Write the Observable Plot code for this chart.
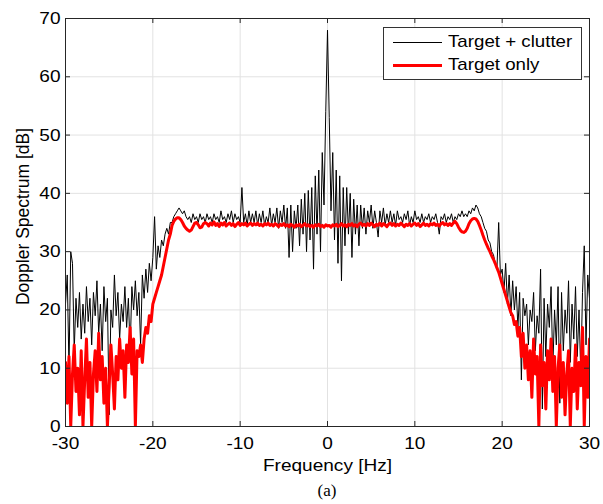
<!DOCTYPE html>
<html>
<head>
<meta charset="utf-8">
<script src="https://cdn.jsdelivr.net/npm/d3@7"></script>
<script src="https://cdn.jsdelivr.net/npm/@observablehq/plot@0.6"></script>
<style>
  body { margin: 0; background: #fff; }
  #wrap { position: relative; width: 603px; height: 504px; font-family: "Liberation Sans", Arial, sans-serif; color: #262626; }
  #legend { position: absolute; left: 383px; top: 27px; width: 197px; height: 51px; border: 1px solid #333; background: #fff; box-sizing: content-box; }
  .row { position: absolute; left: 0; height: 20px; width: 197px; }
  .sw { position: absolute; left: 9px; width: 49px; }
  .lt { position: absolute; left: 64px; top: 0; font-size: 17px; line-height: 20px; white-space: nowrap; transform: scaleX(1.1); transform-origin: left center; color: #000; }
  #caption { position: absolute; left: 0; top: 478px; width: 654px; text-align: center; font-family: "Liberation Serif", "Times New Roman", serif; font-size: 17px; line-height: 26px; color: #000; }
</style>
</head>
<body>
<div id="wrap">
  <div id="chart"></div>
  <div id="legend">
    <div class="row" style="top:4px"><span class="sw" style="top:10px;border-top:1px solid #000"></span><span class="lt">Target + clutter</span></div>
    <div class="row" style="top:27px"><span class="sw" style="top:9px;border-top:3px solid #ff0000"></span><span class="lt">Target only</span></div>
  </div>
  <div id="caption">(a)</div>
</div>
<script>
// Frequency grid: -30 Hz to 30 Hz in 0.2 Hz steps (301 samples)
const freqStart = -30;
const freqStep = 0.2;

// Target + clutter spectrum [dB], 10 samples (2 Hz) per row
const targetClutter = [
  21, 26, 10, 30, 28, 13, 22, 17, 23, 15,            // -30
  21, 16, 24, 18, 22, 14, 23, 19, 25, 16,            // -28
  21, 13, 24, 18, 22, 2, 20, 17, 26, 19,             // -26
  23, 15, 21, 18, 24, 17, 22, 13, 24, 20,            // -24
  25, 19, 23, 14, 26, 22, 27, 23, 28, 25,            // -22
  29, 36, 27, 31, 29, 32, 31, 33, 34, 33,            // -20
  35, 35, 36, 36.5, 37, 37.5, 37, 36.5, 37, 36,      // -18
  35.5, 36, 35, 36.5, 35.5, 36, 35, 36.5, 35.5, 36,  // -16
  35, 36.5, 35.5, 36, 35, 36.5, 35.5, 36, 35, 37,    // -14
  35.5, 36, 35, 36.5, 35.5, 37, 35, 36.5, 35.5, 36,  // -12
  35, 41, 35, 36.5, 34.5, 37, 35, 36.5, 35, 37,      // -10
  34.5, 36.5, 35, 37, 34.5, 36, 35, 37.5, 34.5, 36.5,// -8
  35, 37.5, 34, 37, 35, 38, 34, 37.5, 29, 38,        // -6
  30, 37, 34, 38, 31, 39, 33, 40, 30, 40.5,          // -4
  32, 41, 27, 43, 33, 44, 30, 47, 38, 54,            // -2
  68, 53, 37, 47, 32, 44, 28, 43, 25, 41,            // 0
  31, 41, 33, 40, 29, 39, 33, 38, 31, 38,            // 2
  34, 37.5, 33, 37, 35, 38, 34, 37, 35, 32.5,        // 4
  37, 35, 37.5, 34.5, 36.5, 35, 37, 35, 36.5, 34.5,  // 6
  37, 35.5, 36, 35, 36.5, 35.5, 37, 34.5, 36, 35,    // 8
  37, 35.5, 36, 35, 36.5, 35, 36, 35.5, 36.5, 35,    // 10
  36, 35.5, 36.5, 35, 33, 36, 35.5, 36.5, 35, 36,    // 12
  35.5, 36.5, 35, 36, 35.5, 36.5, 36, 37, 36, 36.5,  // 14
  36, 37, 36.5, 37.5, 37, 38, 37.5, 36.5, 36, 35,    // 16
  34, 33.5, 32, 31.5, 30, 29.5, 28, 27, 35, 26,      // 18
  27, 23, 28, 21, 26, 19, 25, 20, 24, 17,            // 20
  23, 8, 22, 19, 21, 14, 20, 18, 23, 13,             // 22
  19, 16, 27, 3, 22, 12, 21, 17, 24, 10,             // 24
  20, 14, 24, 4, 23, 13, 20, 16, 25, 11,             // 26
  21, 15, 24, 12, 20, 9, 23, 31, 14, 26,             // 28
  22                                                 // 30
];

// Target only spectrum [dB]
const targetOnly = [
  11, 4, 12, 0, 9, 14, 6, 10, 2, 13,                           // -30
  0, 8, 15, 5, 11, 0, 9, 13, 6, 16,                            // -28
  8, 12, 4, 10, 0, 7, 14, 9, 3, 12,                            // -26
  8, 15, 10, 13, 5, 14, 11, 17, 9, 15,                         // -24
  0, 13, 12, 14, 11, 15, 17, 16, 19, 18,                       // -22
  21, 22, 23, 24, 25, 26, 27.5, 29, 30.5, 32,                  // -20
  33, 34.5, 35.2, 35.6, 35.8, 35.8, 35.5, 35, 34.4, 34,        // -18
  33.7, 33.5, 33.7, 34.3, 34.9, 35, 34.6, 34.1, 34.2, 34.8,    // -16
  35, 34.8, 34.4, 34.9, 34.6, 35.1, 34.5, 34.8, 34.3, 34.9,    // -14
  34.6, 35, 34.4, 34.7, 34.9, 34.5, 34.8, 34.3, 34.7, 35,      // -12
  34.5, 34.8, 34.6, 34.9, 34.4, 34.7, 34.9, 34.5, 34.8, 34.6,  // -10
  34.9, 34.5, 34.7, 34.4, 34.8, 34.6, 34.9, 34.5, 34.7, 34.4,  // -8
  34.8, 34.6, 34.3, 34.7, 34.5, 34.8, 34.4, 34.6, 34.3, 34.7,  // -6
  34.5, 34.2, 34.6, 34.4, 34.7, 34.3, 34.5, 34.8, 34.4, 34.6,  // -4
  34.3, 34.5, 34.2, 34.6, 34.4, 34.7, 34.3, 34.5, 34.2, 34.6,  // -2
  34.4, 34.5, 34.2, 34.6, 34.4, 34.7, 34.3, 34.5, 34.8, 34.4,  // 0
  34.6, 34.3, 34.7, 34.5, 34.8, 34.4, 34.6, 34.3, 34.7, 34.9,  // 2
  34.5, 34.7, 34.4, 34.8, 34.5, 34.9, 34.6, 34.3, 34.7, 34.5,  // 4
  34.9, 34.4, 34.8, 34.6, 34.3, 34.7, 34.9, 34.5, 34.8, 34.4,  // 6
  34.7, 34.5, 34.9, 34.6, 34.3, 34.7, 34.5, 34.8, 34.4, 34.7,  // 8
  34.9, 34.5, 34.8, 34.3, 34.6, 34.9, 34.5, 34.7, 34.4, 34.8,  // 10
  34.6, 34.9, 34.5, 34.7, 34.4, 34.8, 35, 34.6, 34.8, 34.5,    // 12
  34.8, 34.5, 34.9, 35.2, 34.8, 34.2, 33.7, 33.4, 33.3, 33.5,  // 14
  34, 34.8, 35.3, 35.6, 35.7, 35.6, 35.2, 34.5, 33.7, 32.8,    // 16
  32, 31.3, 30.6, 30, 29.3, 28.7, 28, 27.2, 26.5, 25.5,        // 18
  24.5, 23.5, 22.5, 21.5, 20.5, 19.5, 19, 17.5, 18, 15.5,      // 20
  17, 12, 16, 10, 14, 8, 13, 5, 15, 9,                         // 22
  12, 0, 14, 7, 11, 3, 13, 8, 15, 6,                           // 24
  12, 0, 10, 14, 5, 11, 2, 9, 13, 0,                           // 26
  10, 6, 14, 3, 11, 7, 17, 0, 12, 5,                           // 28
  15                                                           // 30
];

const xTicks = [-30, -20, -10, 0, 10, 20, 30];
const yTicks = [0, 10, 20, 30, 40, 50, 60, 70];
const xLabel = "Frequency [Hz]";
const yLabel = "Doppler Spectrum [dB]";

const freqOf = i => +(freqStart + i * freqStep).toFixed(1);
const clutterRows = targetClutter.map((v, i) => ({f: freqOf(i), v}));
const targetRows = targetOnly.map((v, i) => ({f: freqOf(i), v}));

const W = 603, H = 478;
const axisColor = "#262626";

const chart = Plot.plot({
  width: W,
  height: H,
  marginLeft: 65,
  marginRight: 14,
  marginTop: 18,
  marginBottom: 52,
  x: {domain: [-30, 30]},
  y: {domain: [0, 70]},
  style: {fontFamily: "'Liberation Sans', Arial, sans-serif", fontSize: "17px", color: axisColor, background: "#fff", overflow: "visible"},
  marks: [
    Plot.gridX(xTicks, {stroke: "#e2e2e2", strokeOpacity: 1}),
    Plot.gridY(yTicks, {stroke: "#e2e2e2", strokeOpacity: 1}),
    Plot.line(clutterRows, {x: "f", y: "v", stroke: "#000", strokeWidth: 1, clip: true}),
    Plot.line(targetRows, {x: "f", y: "v", stroke: "#ff0000", strokeWidth: 3, strokeLinejoin: "round", clip: true}),
    Plot.tickX(xTicks, {x: d => d, insetTop: 403, stroke: axisColor}),
    Plot.tickX(xTicks, {x: d => d, insetBottom: 403, stroke: axisColor}),
    Plot.tickY(yTicks, {y: d => d, insetRight: 519, stroke: axisColor}),
    Plot.tickY(yTicks, {y: d => d, insetLeft: 519, stroke: axisColor}),
    Plot.frame({stroke: axisColor, strokeWidth: 1}),
    Plot.axisX(xTicks, {tickSize: 0, tickPadding: 10, label: null, tickFormat: d => String(d), fill: "#000"}),
    Plot.axisY(yTicks, {tickSize: 0, tickPadding: 5, label: null, tickFormat: d => String(d), fill: "#000"}),
    Plot.text([xLabel], {frameAnchor: "bottom", dy: 44, fill: "#000", fontSize: 17}),
    Plot.text([yLabel], {frameAnchor: "left", textAnchor: "middle", rotate: -90, dx: -42, dy: -6, fill: "#000", fontSize: 17.5})
  ]
});

document.getElementById("chart").appendChild(chart);

// horizontal stretch of horizontal texts to match the reference proportions
chart.querySelectorAll("text").forEach(t => {
  const tr = t.getAttribute("transform") || "";
  if (tr.includes("rotate")) return;
  const len = t.getComputedTextLength();
  if (len > 0) {
    t.setAttribute("textLength", (len * 1.12).toFixed(1));
    t.setAttribute("lengthAdjust", "spacingAndGlyphs");
  }
});
</script>
</body>
</html>
